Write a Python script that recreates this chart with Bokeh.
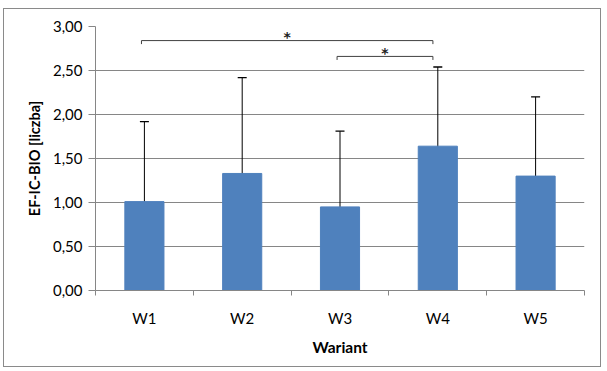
from bokeh.plotting import figure
from bokeh.models import (ColumnDataSource, Range1d, FixedTicker, Whisker, TeeHead)
from bokeh.core.properties import value
from bokeh.embed import file_html
from bokeh.resources import INLINE

categories = ["W1", "W2", "W3", "W4", "W5"]
means = [1.01, 1.33, 0.95, 1.64, 1.30]
sds = [0.91, 1.09, 0.86, 0.90, 0.90]
y_ticks = [0.0, 0.5, 1.0, 1.5, 2.0, 2.5, 3.0]
y_tick_labels = ["0,00", "0,50", "1,00", "1,50", "2,00", "2,50", "3,00"]
# significance brackets: (from category index, to category index, height)
brk_from = [0, 2]
brk_to = [3, 3]
brk_height = [2.84, 2.66]
brk_label = ["*", "*"]

FONT = "Lato"
GRID = "#868686"

xs = [i + 0.5 for i in range(len(categories))]
lower = [m - s for m, s in zip(means, sds)]
upper = [m + s for m, s in zip(means, sds)]
src = ColumnDataSource(dict(x=xs, top=means, lower=lower, upper=upper))

p = figure(width=598, height=359, output_backend="svg", toolbar_location=None,
           x_range=Range1d(0, len(categories)), y_range=Range1d(0, 3.0),
           min_border_left=91, min_border_right=18, min_border_top=17,
           min_border_bottom=78)
p.styles = {"border": "1px solid #8a8a8a", "margin-left": "3px", "margin-top": "8px"}
p.outline_line_color = None
p.background_fill_color = "white"

p.vbar(x="x", top="top", width=0.4, source=src, color="#4F81BD")
w = Whisker(base="x", lower="lower", upper="upper", source=src,
            line_color="black", line_width=1,
            upper_head=TeeHead(size=9, line_color="black", line_width=1.3),
            lower_head=TeeHead(size=9, line_color="black", line_width=1.3))
p.add_layout(w)

# significance brackets
drop = 0.04
for a, b, h, lab in zip(brk_from, brk_to, brk_height, brk_label):
    x0 = a + 0.5 - 0.03
    x1 = b + 0.5 - 0.05
    p.line([x0, x0, x1, x1], [h - drop, h, h, h - drop], line_color="#404040", line_width=1)
    p.text(x=[(x0 + x1) / 2], y=[h + 0.04], text=[lab], text_align="center",
           text_baseline="middle", text_font=value("DejaVu Sans"),
           text_font_size="14px", text_font_style="bold", text_color="#202020")

# y axis
p.yaxis.ticker = FixedTicker(ticks=y_ticks)
p.yaxis.major_label_overrides = {t: l for t, l in zip(y_ticks, y_tick_labels)}
p.yaxis.axis_line_color = GRID
p.yaxis.major_tick_line_color = GRID
p.yaxis.major_tick_out = 7
p.yaxis.major_tick_in = 0
p.yaxis.minor_tick_line_color = None
p.yaxis.major_label_standoff = 6
p.yaxis.major_label_text_font = FONT
p.yaxis.major_label_text_font_size = "15px"
p.yaxis.major_label_text_color = "black"
p.yaxis.axis_label = "EF-IC-BIO [liczba]"
p.yaxis.axis_label_text_font = FONT
p.yaxis.axis_label_text_font_style = "bold"
p.yaxis.axis_label_text_font_size = "14.5px"
p.yaxis.axis_label_text_color = "black"
p.yaxis.axis_label_standoff = 7

# x axis
p.xaxis.ticker = FixedTicker(ticks=xs, minor_ticks=list(range(len(categories) + 1)))
p.xaxis.major_label_overrides = {x: c for x, c in zip(xs, categories)}
p.xaxis.axis_line_color = GRID
p.xaxis.major_tick_line_color = None
p.xaxis.major_tick_out = 0
p.xaxis.major_tick_in = 0
p.xaxis.minor_tick_line_color = GRID
p.xaxis.minor_tick_out = 5
p.xaxis.minor_tick_in = 0
p.xaxis.major_label_standoff = 13
p.xaxis.major_label_text_font = FONT
p.xaxis.major_label_text_font_size = "15px"
p.xaxis.major_label_text_color = "black"
p.xaxis.axis_label = "Wariant"
p.xaxis.axis_label_text_font = FONT
p.xaxis.axis_label_text_font_style = "bold"
p.xaxis.axis_label_text_font_size = "15.5px"
p.xaxis.axis_label_text_color = "black"
p.xaxis.axis_label_standoff = 8

p.xgrid.grid_line_color = None
p.ygrid.grid_line_color = GRID
p.ygrid.ticker = FixedTicker(ticks=y_ticks)

open("out.html", "w").write(file_html(p, INLINE))
